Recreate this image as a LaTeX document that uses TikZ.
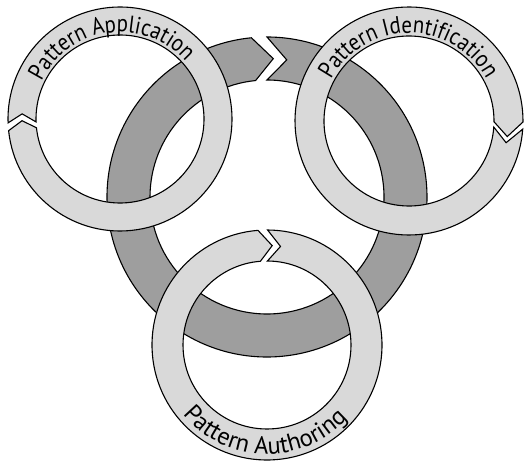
\documentclass[tikz,border=0pt]{standalone}
\usepackage{fontspec}
\newfontfamily\ringfont[FakeStretch=0.87]{PT Sans}
\newfontfamily\ringfontwide{PT Sans}
\usepackage{tikz}
\usetikzlibrary{
  calc,
  decorations.text,
}

\definecolor{ringlight}{gray}{0.85}
\definecolor{ringdark}{gray}{0.62}

\newcommand{\ringtext}{\ringfont\fontsize{24pt}{26pt}\selectfont}
\newcommand{\ringtextwide}{\ringfontwide\fontsize{24.5pt}{26pt}\selectfont}

% broken annulus: centre, inner r, outer r, gap angle, half gap, chevron depth, style
\newcommand{\chevring}[7]{%
  \draw[#7, shift={(#1)}]
    ({#4+#5}:#3) arc[start angle={#4+#5}, end angle={#4-#5+360}, radius=#3]
    -- ({#4-#5-#6}:{(#2+#3)/2})
    -- ({#4-#5}:#2) arc[start angle={#4-#5+360}, end angle={#4+#5}, radius=#2]
    -- ({#4+#5-#6}:{(#2+#3)/2})
    -- cycle;}

\begin{document}
\begin{tikzpicture}[
  x=1pt, y=1pt,
  lightring/.style={draw=black, fill=ringlight, line width=1.1pt},
  darkring/.style={draw=black, fill=ringdark, line width=1.1pt},
  ringlabel/.style={decorate, decoration={text along path,
                    text align=center, text={#1}}},
]
\useasboundingbox (0,0) rectangle (524,463);

\coordinate (core)  at (267,266);
\coordinate (appl)  at (120,344);
\coordinate (ident) at (409,342);
\coordinate (auth)  at (267,118);

% big cycle behind
\chevring{core}{117}{160}{92.8}{2.8}{8.2}{darkring}

% the three phases
\chevring{appl}{84}{112}{184}{2}{5}{lightring}
\chevring{ident}{85}{114}{-2.3}{1.8}{8.5}{lightring}
\chevring{auth}{84}{115}{92.1}{2.4}{7.5}{lightring}

% labels
\path[ringlabel={|\ringtext|Pattern Application}]
  ($(appl)+(187.6:87)$) arc[start angle=187.6, end angle=7.6, radius=87];
\path[ringlabel={|\ringtext|Pattern Identification}]
  ($(ident)+(180.3:88)$) arc[start angle=180.3, end angle=0.3, radius=88];
\path[ringlabel={|\ringtextwide|Pattern Authoring}]
  ($(auth)+(178.5:109)$) arc[start angle=178.5, end angle=358.5, radius=109];

\end{tikzpicture}
\end{document}
